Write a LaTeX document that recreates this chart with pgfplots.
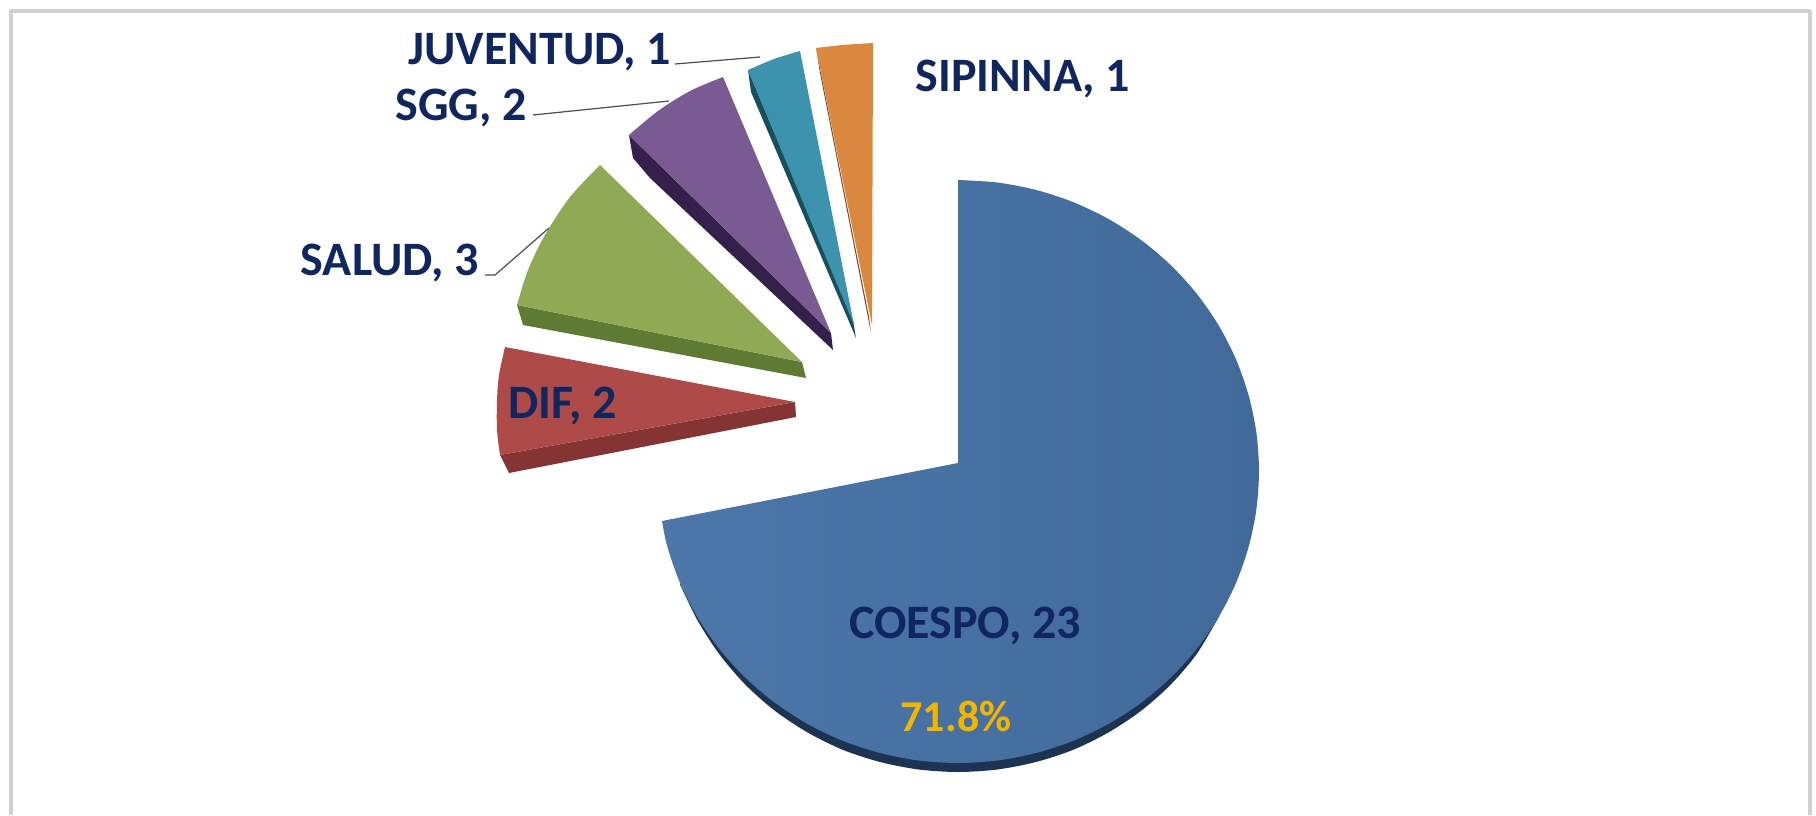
\documentclass[border=0pt]{standalone}
\usepackage{pgfplots}
\pgfplotsset{compat=1.18}
\usepackage{fontspec}
\setmainfont{Carlito}
\definecolor{navy}{HTML}{10265E}
\definecolor{gold}{HTML}{F2B600}
\newcommand{\lab}{\fontsize{48}{50}\selectfont\bfseries}
\newcommand{\labb}{\fontsize{44}{46}\selectfont\bfseries}
\begin{document}
\begin{tikzpicture}
\begin{axis}[
  scale only axis, width=1816pt, height=815pt,
  xmin=0, xmax=1816, ymin=0, ymax=815, y dir=reverse,
  hide axis, no markers, clip=true,
  every axis plot/.append style={line join=round}
]
% frame
\addplot[color={rgb,255:red,208;green,208;blue,208}, line width=3.5pt] coordinates {(11,815) (11,11) (1810,11) (1810,815)};
% COESPO depth
\addplot[smooth, fill={rgb,255:red,28;green,52;blue,82}, draw=none] coordinates {
(1218.7,617) (1196.8,653.8) (1170.8,684.5) (1141.2,710.7) (1108.5,732.4) (1073.2,749.8) (1035.9,762) (997.3,769.5) (958,772) (918.7,769.5) (880.1,762) (842.8,749.8) (807.5,732.4) (774.8,710.7) (745.2,684.5) (719.2,654) (697.3,620) (679.9,584)} --cycle;
% COESPO top
\addplot[smooth, left color={rgb,255:red,76;green,119;blue,168}, right color={rgb,255:red,65;green,106;blue,154}, draw=none] coordinates {
(958,180) (997.3,182.5) (1035.9,189.9) (1073.2,202.1) (1108.5,219) (1141.2,240.1) (1170.8,265.2) (1196.8,293.8) (1218.7,325.5) (1236.1,359.6) (1248.7,395.7) (1256.4,433) (1259,471) (1256.4,509.1) (1248.7,546.6) (1236.1,582.7) (1218.7,617) (1196.8,648.8) (1170.8,677.5) (1141.2,702.7) (1108.5,723.9) (1073.2,740.8) (1035.9,753) (997.3,760.5) (958,763) (918.7,760.5) (880.1,753) (842.8,740.8) (807.5,723.9) (774.8,702.7) (745.2,677.5) (719.2,648.8) (697.3,617) (679.9,582.7) (667.3,546.6) (662,521)} -- (axis cs:958,463) --cycle;
% DIF
\addplot[fill={rgb,255:red,132;green,52;blue,51}, draw=none] coordinates {(500,455) (509,473) (796,417) (795,402)} --cycle;
\addplot[smooth, fill={rgb,255:red,174;green,75;blue,72}, draw=none] coordinates {(505,347) (499,375) (497,400) (497,430) (500,455)} -- (axis cs:795,402) --cycle;
% SALUD
\addplot[fill={rgb,255:red,94;green,122;blue,51}, draw=none] coordinates {(517,305) (523,325) (806,378) (802,362)} --cycle;
\addplot[smooth, fill={rgb,255:red,143;green,169;blue,85}, draw=none] coordinates {(600,165) (570,197) (545,235) (528,270) (517,305)} -- (axis cs:802,362) --cycle;
% SGG
\addplot[fill={rgb,255:red,52;green,32;blue,74}, draw=none] coordinates {(629,135) (633,158) (650,178) (833,350) (831,333)} --cycle;
\addplot[smooth, fill={rgb,255:red,122;green,90;blue,147}, draw=none] coordinates {(723,77) (690,91) (658,111) (629,135)} -- (axis cs:831,333) --cycle;
% JUVENTUD
\addplot[fill={rgb,255:red,23;green,79;blue,92}, draw=none] coordinates {(748,70) (751,92) (856,338) (853,320)} --cycle;
\addplot[smooth, fill={rgb,255:red,61;green,147;blue,174}, draw=none] coordinates {(748,70) (774,59) (800,51)} -- (axis cs:854,325) --cycle;
% SIPINNA
\addplot[fill={rgb,255:red,122;green,74;blue,32}, draw=none] coordinates {(816,48) (820,73) (871,333) (869,317)} --cycle;
\addplot[smooth, fill={rgb,255:red,218;green,135;blue,63}, draw=none] coordinates {(816,48) (843,45) (873,43)} -- (axis cs:872,325) --cycle;
% leader lines
\addplot[color=black!70, line width=1.2pt] coordinates {(675,64) (760,57)};
\addplot[color=black!70, line width=1.2pt] coordinates {(533,115) (669,101)};
\addplot[color=black!70, line width=1.2pt] coordinates {(485,275) (495,275) (549,228)};
% labels
\node[text=navy, font=\lab] at (axis cs:540,52) {JUVENTUD, 1};
\node[text=navy, font=\lab] at (axis cs:461,108) {SGG, 2};
\node[text=navy, font=\lab] at (axis cs:390,263) {SALUD, 3};
\node[text=navy, font=\lab] at (axis cs:563,406) {DIF, 2};
\node[text=navy, font=\lab] at (axis cs:1023,79) {SIPINNA, 1};
\node[text=navy, font=\lab] at (axis cs:965,626) {COESPO, 23};
\node[text=gold, font=\labb] at (axis cs:956,716) {71.8\%};
\end{axis}
\pgfresetboundingbox
\path (0,0) rectangle (1816pt,815pt);
\end{tikzpicture}
\end{document}
